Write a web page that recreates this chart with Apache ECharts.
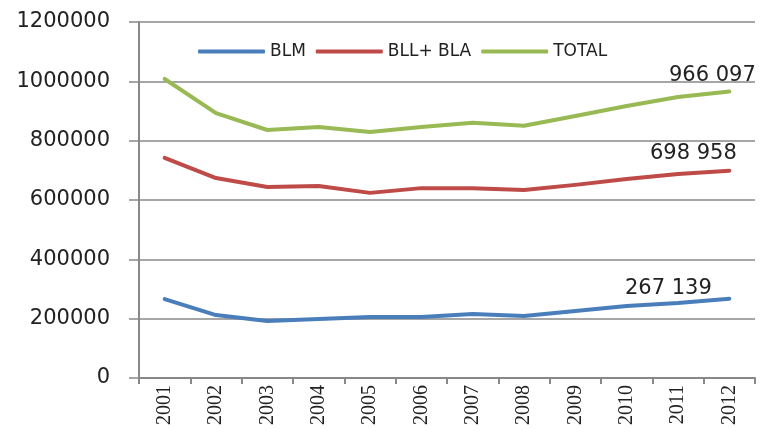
<!DOCTYPE html>
<html>
<head>
<meta charset="utf-8">
<script src="https://cdn.jsdelivr.net/npm/echarts@6/dist/echarts.min.js"></script>
<style>
  html, body { margin: 0; padding: 0; background: #fff; }
  #chart { width: 769px; height: 430px; }
</style>
</head>
<body>
<div id="chart"></div>
<script>
// 年份
const years = ['2001', '2002', '2003', '2004', '2005', '2006', '2007', '2008', '2009', '2010', '2011', '2012'];
// 系列数值
const blm = [266000, 212000, 192000, 199000, 206000, 206000, 216000, 209000, 226000, 243000, 253000, 267139];
const bllBla = [742000, 674000, 644000, 647000, 624000, 640000, 640000, 634000, 651000, 671000, 688000, 698958];
const total = [1008000, 893000, 836000, 846000, 829000, 846000, 860000, 850000, 883000, 917000, 947000, 966097];
const yTicks = [0, 200000, 400000, 600000, 800000, 1000000, 1200000];

const fmt = v => String(v).replace(/\B(?=(\d{3})+(?!\d))/g, ' ');

// 最后一个点加数值标签
function withEndLabel(values, offset) {
  return values.map((v, i) => i < values.length - 1 ? v : {
    value: v,
    label: {
      show: true, position: 'top', offset: offset,
      formatter: p => fmt(p.value),
      color: '#222', fontSize: 21, fontFamily: "'DejaVu Sans'"
    }
  });
}

const chart = echarts.init(document.getElementById('chart'));
const lineSeries = (name, data, color, offset) => ({
  name, type: 'line', data: withEndLabel(data, offset),
  showSymbol: true, symbol: 'circle', symbolSize: 0,
  lineStyle: { color, width: 4, cap: 'round', join: 'round' },
  itemStyle: { color },
  emphasis: { disabled: true }
});

chart.setOption({
  animation: false,
  backgroundColor: '#fff',
  grid: { left: 139, right: 14, top: 22, bottom: 52 },
  legend: {
    top: 38, left: 193, itemGap: 10, itemWidth: 67, itemHeight: 4,
    icon: 'roundRect',
    textStyle: { color: '#222', fontSize: 17, fontFamily: "'DejaVu Sans'" },
    data: ['BLM', 'BLL+ BLA', 'TOTAL']
  },
  xAxis: {
    type: 'category', data: years, boundaryGap: true,
    axisLine: { lineStyle: { color: '#888', width: 2 } },
    axisTick: { show: true, length: 6, lineStyle: { color: '#888', width: 2 } },
    axisLabel: { rotate: 90, color: '#222', fontSize: 20, fontFamily: 'Times New Roman', margin: 7 }
  },
  yAxis: {
    type: 'value', min: yTicks[0], max: yTicks[yTicks.length - 1], interval: 200000,
    axisLine: { show: true, lineStyle: { color: '#888', width: 2 } },
    axisTick: { show: true, length: 10, lineStyle: { color: '#888', width: 1.5 } },
    axisLabel: { color: '#222', fontSize: 21, fontFamily: "'DejaVu Sans'", margin: 29, formatter: v => String(v) },
    splitLine: { lineStyle: { color: '#888', width: 1.5 } }
  },
  series: [
    lineSeries('BLM', blm, '#4a7ebb', [-61, 5]),
    lineSeries('BLL+ BLA', bllBla, '#be4b48', [-36, -2]),
    lineSeries('TOTAL', total, '#98b954', [-17, 0])
  ]
});
</script>
</body>
</html>
